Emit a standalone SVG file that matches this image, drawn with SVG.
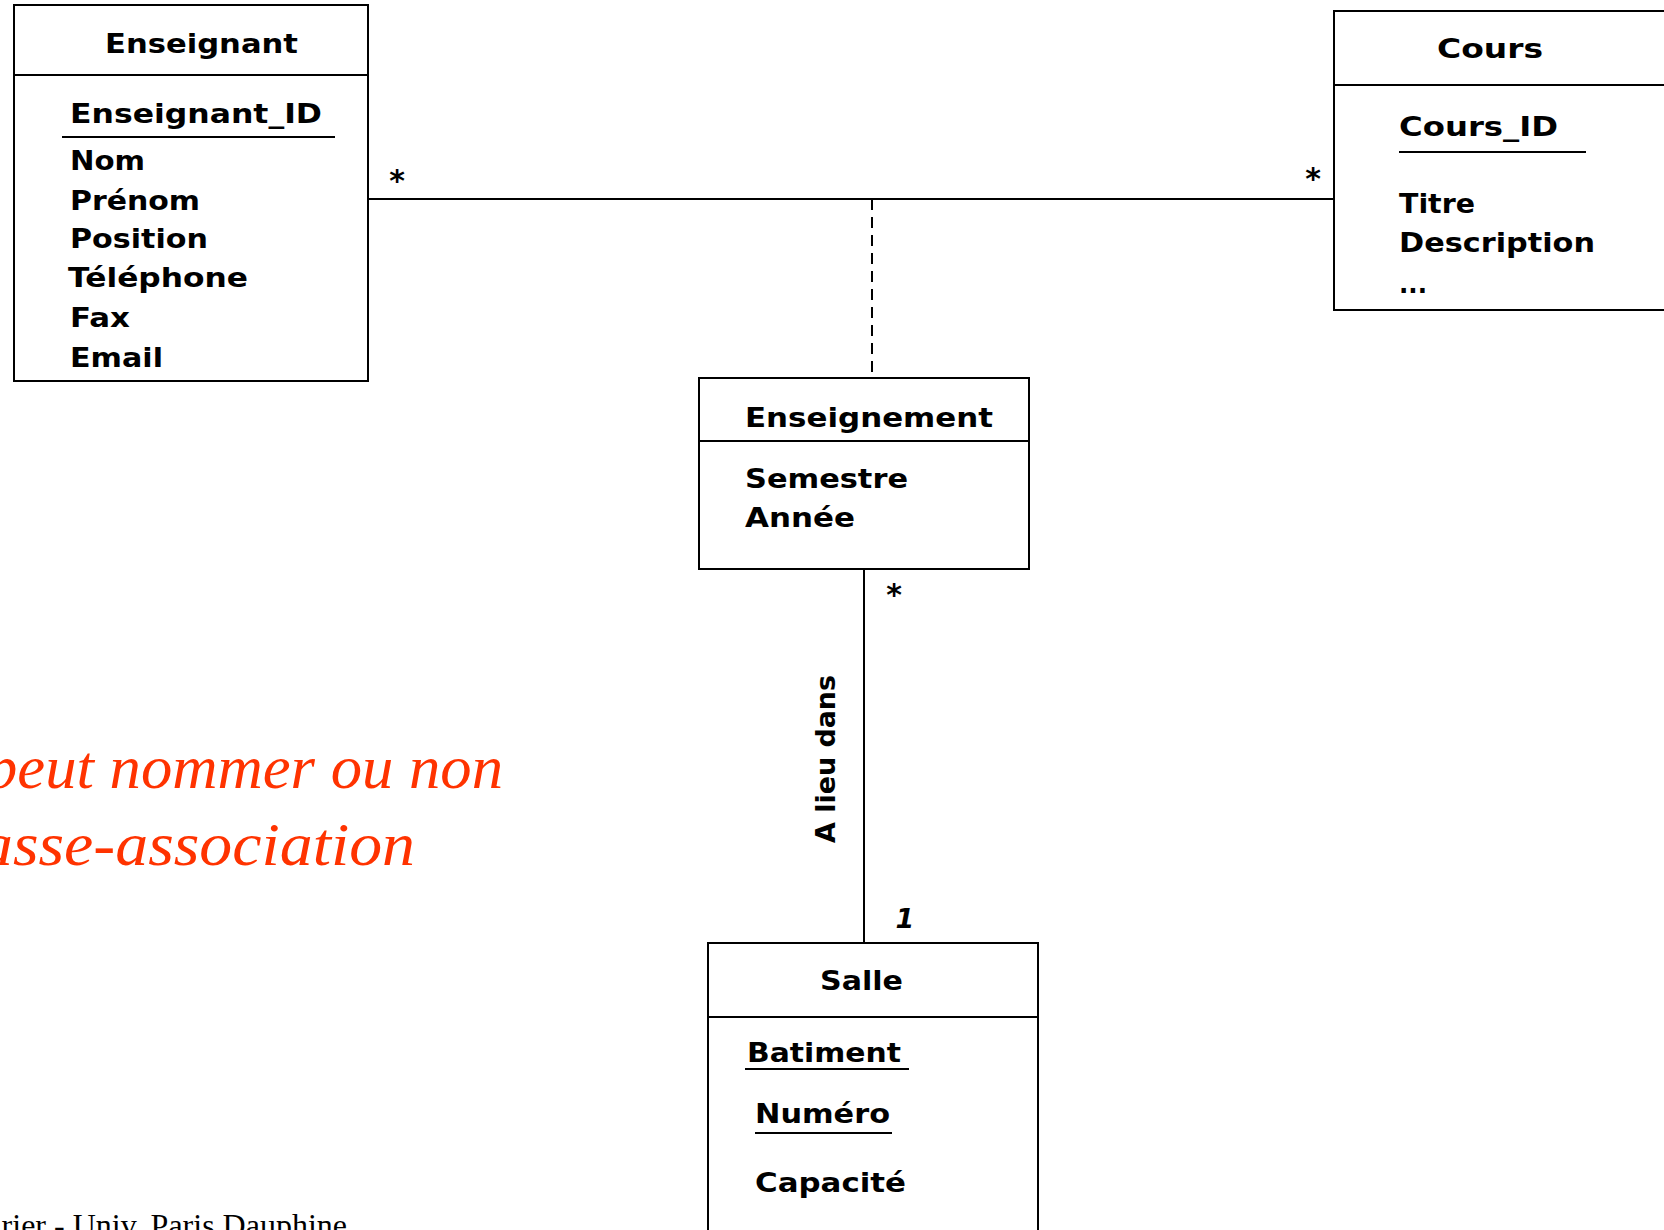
<svg xmlns="http://www.w3.org/2000/svg" width="1664" height="1230" viewBox="0 0 1664 1230">
<style>
.box{fill:#fff;stroke:#000;stroke-width:2}
.ln{stroke:#000;stroke-width:2;fill:none}
.t{font-family:"DejaVu Sans","Liberation Sans",sans-serif;font-weight:bold;font-size:27px;fill:#000}
.m{font-family:"DejaVu Sans","Liberation Sans",sans-serif;font-weight:bold;font-size:30px;fill:#000}
.red{font-family:"Liberation Serif",serif;font-style:italic;font-size:62px;fill:#ff3300}
.foot{font-family:"Liberation Serif",serif;font-size:32px;fill:#000}
</style>
<rect width="1664" height="1230" fill="#fff"/>
<g id="connectors">
<line class="ln" x1="368" y1="199" x2="1334" y2="199"/>
<line class="ln" x1="872" y1="199" x2="872" y2="378" stroke-dasharray="11 7"/>
<line class="ln" x1="864" y1="569" x2="864" y2="943"/>
<text class="m" x="397" y="191" text-anchor="middle">*</text>
<text class="m" x="1313" y="189" text-anchor="middle">*</text>
<text class="m" x="894" y="605" text-anchor="middle">*</text>
<text class="t" x="905" y="928" text-anchor="middle" font-style="italic" font-size="29">1</text>
<text class="t" transform="translate(835,843) rotate(-90)" x="0" y="0" font-size="31" textLength="168" lengthAdjust="spacingAndGlyphs">A lieu dans</text>
</g>
<g id="enseignant">
<rect class="box" x="14" y="5" width="354" height="376"/>
<line class="ln" x1="14" y1="75" x2="368" y2="75"/>
<text class="t" x="105" y="53" textLength="193" lengthAdjust="spacingAndGlyphs">Enseignant</text>
<text class="t" x="70" y="123" textLength="252" lengthAdjust="spacingAndGlyphs">Enseignant_ID</text>
<line class="ln" x1="62" y1="137" x2="335" y2="137"/>
<text class="t" x="70" y="170" textLength="75" lengthAdjust="spacingAndGlyphs">Nom</text>
<text class="t" x="70" y="210" textLength="130" lengthAdjust="spacingAndGlyphs">Prénom</text>
<text class="t" x="70" y="248" textLength="138" lengthAdjust="spacingAndGlyphs">Position</text>
<text class="t" x="68" y="287" textLength="180" lengthAdjust="spacingAndGlyphs">Téléphone</text>
<text class="t" x="70" y="327" textLength="60" lengthAdjust="spacingAndGlyphs">Fax</text>
<text class="t" x="70" y="367" textLength="93" lengthAdjust="spacingAndGlyphs">Email</text>
</g>
<g id="cours">
<rect class="box" x="1334" y="11" width="340" height="299"/>
<line class="ln" x1="1334" y1="85" x2="1664" y2="85"/>
<text class="t" x="1437" y="58" textLength="106" lengthAdjust="spacingAndGlyphs">Cours</text>
<text class="t" x="1399" y="136" textLength="159" lengthAdjust="spacingAndGlyphs">Cours_ID</text>
<line class="ln" x1="1399" y1="152" x2="1586" y2="152"/>
<text class="t" x="1399" y="213" textLength="76" lengthAdjust="spacingAndGlyphs">Titre</text>
<text class="t" x="1399" y="252" textLength="196" lengthAdjust="spacingAndGlyphs">Description</text>
<text class="t" x="1399" y="293" textLength="28" lengthAdjust="spacingAndGlyphs">...</text>
</g>
<g id="enseignement">
<rect class="box" x="699" y="378" width="330" height="191"/>
<line class="ln" x1="699" y1="441" x2="1029" y2="441"/>
<text class="t" x="745" y="427" textLength="248" lengthAdjust="spacingAndGlyphs">Enseignement</text>
<text class="t" x="745" y="488" textLength="163" lengthAdjust="spacingAndGlyphs">Semestre</text>
<text class="t" x="745" y="527" textLength="110" lengthAdjust="spacingAndGlyphs">Année</text>
</g>
<g id="salle">
<rect class="box" x="708" y="943" width="330" height="320"/>
<line class="ln" x1="708" y1="1017" x2="1038" y2="1017"/>
<text class="t" x="820" y="990" textLength="83" lengthAdjust="spacingAndGlyphs">Salle</text>
<text class="t" x="747" y="1062" textLength="154" lengthAdjust="spacingAndGlyphs">Batiment</text>
<line class="ln" x1="745" y1="1069" x2="909" y2="1069"/>
<text class="t" x="755" y="1123" textLength="135" lengthAdjust="spacingAndGlyphs">Numéro</text>
<line class="ln" x1="755" y1="1133" x2="892" y2="1133"/>
<text class="t" x="755" y="1192" textLength="151" lengthAdjust="spacingAndGlyphs">Capacité</text>
</g>
<g id="note">
<text class="red" x="-14" y="788" textLength="517" lengthAdjust="spacingAndGlyphs">peut nommer ou non</text>
<text class="red" x="-20" y="865" textLength="435" lengthAdjust="spacingAndGlyphs">asse-association</text>
</g>
<text class="foot" x="347" y="1236" text-anchor="end">rier - Univ. Paris Dauphine</text>
</svg>
